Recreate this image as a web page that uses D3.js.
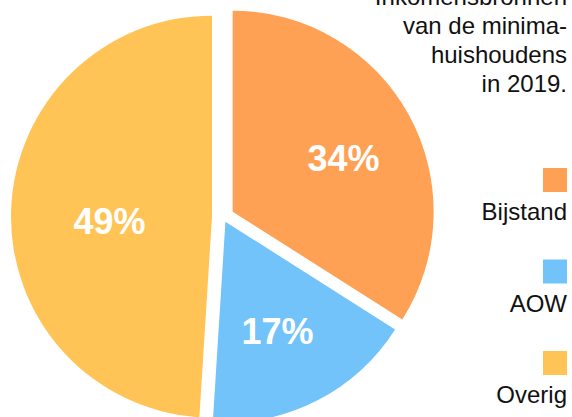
<!DOCTYPE html>
<html lang="nl">
<head>
    <meta charset="UTF-8">
    <title>Inkomensbronnen minimahuishoudens 2019</title>
    <script src="https://cdnjs.cloudflare.com/ajax/libs/d3/7.8.5/d3.min.js"></script>
    <style>
        body {
            margin: 0;
            background-color: #fff;
            font-family: "Liberation Sans", Arial, sans-serif;
        }

        svg {
            display: block;
        }
    </style>
</head>
<body>
<svg width="572" height="417"></svg>

<script>
    // Data
    const categories = ["Bijstand", "AOW", "Overig"];
    const shares = [34, 17, 49];
    const colors = ["#FFA154", "#73C3FB", "#FFC455"];
    const titleLines = ["Inkomensbronnen", "van de minima-", "huishoudens", "in 2019."];

    const svg = d3.select("svg");

    // Pie layout
    const cx = 223, cy = 217, radius = 201;
    const explode = [11, 5.3, 11];      // slice offsets, px
    const labelFactor = [0.63, 0.57, 0.51];

    const pie = d3.pie().sort(null).value(d => d)(shares);
    const arc = d3.arc().innerRadius(0).outerRadius(radius);

    const slices = svg.append("g")
        .attr("transform", `translate(${cx},${cy})`)
        .selectAll("g")
        .data(pie)
        .enter()
        .append("g")
        .attr("transform", (d, i) => {
            const mid = (d.startAngle + d.endAngle) / 2;
            return `translate(${explode[i] * Math.sin(mid)},${-explode[i] * Math.cos(mid)})`;
        });

    slices.append("path")
        .attr("d", arc)
        .attr("fill", (d, i) => colors[i]);

    slices.append("text")
        .attr("transform", (d, i) => {
            const r = radius * labelFactor[i];
            const c = d3.arc().innerRadius(r).outerRadius(r).centroid(d);
            return `translate(${c[0]},${c[1]})`;
        })
        .attr("text-anchor", "middle")
        .attr("dy", "0.56em")
        .attr("fill", "#fff")
        .attr("font-size", 36)
        .attr("font-weight", "bold")
        .text(d => d.data + "%");

    // Title, right aligned (top line runs off the edge, as in the original)
    svg.append("g")
        .selectAll("text")
        .data(titleLines)
        .enter()
        .append("text")
        .attr("x", 567)
        .attr("y", (d, i) => 5 + i * 29)
        .attr("text-anchor", "end")
        .attr("font-size", 24)
        .attr("fill", "#111")
        .text(d => d);

    // Legend
    const legend = svg.append("g")
        .selectAll("g")
        .data(categories)
        .enter()
        .append("g")
        .attr("transform", (d, i) => `translate(0,${168 + i * 91.5})`);

    legend.append("rect")
        .attr("x", 543)
        .attr("y", 0)
        .attr("width", 24)
        .attr("height", 24)
        .attr("fill", (d, i) => colors[i]);

    legend.append("text")
        .attr("x", 567)
        .attr("y", 52)
        .attr("text-anchor", "end")
        .attr("font-size", 24)
        .attr("fill", "#111")
        .text(d => d);
</script>
</body>
</html>
